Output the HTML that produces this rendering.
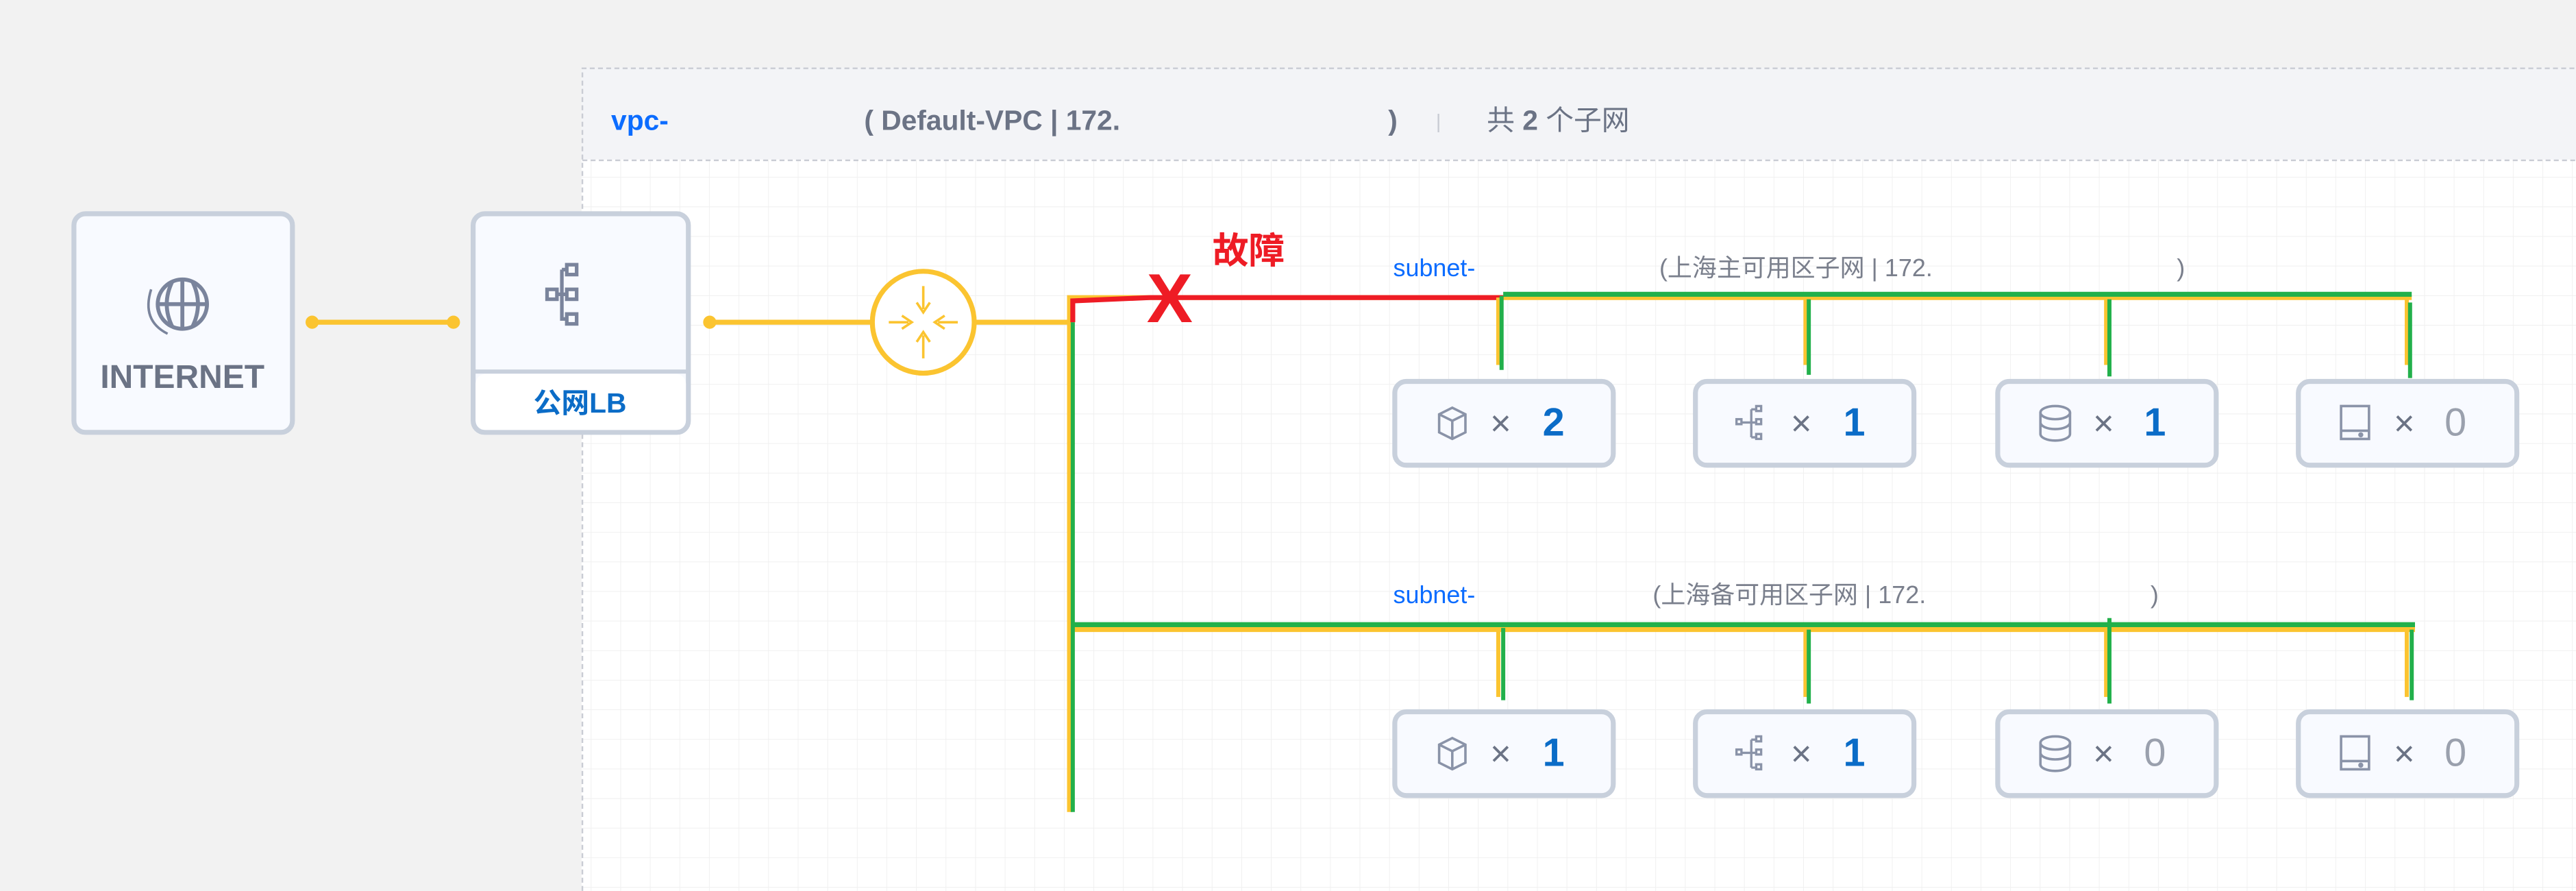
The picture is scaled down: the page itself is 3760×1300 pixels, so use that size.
<!DOCTYPE html>
<html><head><meta charset="utf-8"><style>
html,body{margin:0;padding:0;background:#f2f2f2;}
svg{display:block}
text{font-family:"Liberation Sans","Noto Sans CJK SC",sans-serif;}
</style></head><body>
<svg width="3760" height="1300" viewBox="0 0 1568 542" xmlns="http://www.w3.org/2000/svg">
<defs>
<pattern id="g" width="18" height="18" patternUnits="userSpaceOnUse"><path d="M18 0V18H0" fill="none" stroke="#f0f0f0" stroke-width="0.8"/></pattern>
<g id="cube"><path d="M-8 -5 L0 -9 L8 -5 L8 6 L0 10 L-8 6Z M-8 -5 L0 -1 L8 -5 M0 -1 L0 10" fill="none" stroke="#8a93a8" stroke-width="1.5"/></g>
<g id="lbi" fill="none" stroke="#8a93a8" stroke-width="1.4"><rect x="-9" y="-2" width="3" height="3"/><rect x="3" y="-10" width="3" height="3"/><rect x="3" y="-2" width="3" height="3"/><rect x="3" y="7" width="3" height="3"/><path d="M-6 0H3M0 -8V9M0 -8H3M0 9H3"/></g>
<g id="db" fill="none" stroke="#8a93a8" stroke-width="1.5"><ellipse cx="0" cy="-6" rx="9" ry="4"/><path d="M-9 -6V7M9 -6V7M-9 0A9 4 0 0 0 9 0M-9 7A9 4 0 0 0 9 7"/></g>
<g id="disk" fill="none" stroke="#8a93a8" stroke-width="1.5"><path d="M-8 -10H8V10H-9V-10Z M-9 5H8"/><circle cx="3" cy="7.5" r="0.8" fill="#8a93a8"/></g>
</defs>
<rect width="1568" height="542" fill="#f2f2f2"/>
<rect x="354" y="41" width="1214" height="501" fill="#fff"/>
<rect x="354" y="97" width="1214" height="445" fill="url(#g)"/>
<rect x="354" y="41" width="1214" height="56" fill="#f3f4f7"/>
<path d="M354.5 542V41.5H1568M354.5 97.5H1568" fill="none" stroke="#c9ccd4" stroke-dasharray="3,2"/>
<text x="372" y="79" font-size="17" font-weight="bold" fill="#0b6cff">vpc-</text>
<text x="526" y="79" font-size="17" font-weight="bold" fill="#6b7385">( Default-VPC | 172.</text>
<text x="845" y="79" font-size="17" font-weight="bold" fill="#6b7385">)</text>
<text x="874" y="78" font-size="12" fill="#c8cbd3">|</text>
<text x="905" y="79" font-size="17" fill="#6b7385">共 <tspan font-weight="bold">2</tspan> 个子网</text>

<rect x="45" y="130" width="133" height="133" rx="7" fill="#f8faff" stroke="#c8d0dc" stroke-width="3"/>
<g fill="none" stroke="#7a849c" stroke-width="2.4"><circle cx="111" cy="185" r="15"/><path d="M96 185H126M111 170V200M105 171Q98 185 105 199M117 171Q124 185 117 199"/><path d="M92 176Q86 195 102 203" stroke-width="1.5"/></g>
<text x="111" y="236" font-size="20" font-weight="bold" fill="#6b7385" text-anchor="middle">INTERNET</text>

<rect x="288" y="130" width="131" height="133" rx="7" fill="#f8faff" stroke="#c8d0dc" stroke-width="3"/>
<path d="M288 226H419" stroke="#c8d0dc" stroke-width="2.5"/>
<rect x="289.5" y="227.5" width="128" height="34" rx="6" fill="#fff"/>
<g fill="none" stroke="#7a849c" stroke-width="2.2"><rect x="333" y="176" width="6" height="6"/><rect x="345" y="161" width="6" height="6"/><rect x="345" y="176" width="6" height="6"/><rect x="345" y="191" width="6" height="6"/><path d="M339 179H345M342 164V194H345M342 164H345"/></g>
<text x="353" y="251" font-size="17" font-weight="bold" fill="#0b6cc7" text-anchor="middle">公网LB</text>

<g stroke="#fbc430" stroke-width="3" fill="#fbc430">
<path d="M190 196H276M432 196H530M594 196H652"/>
<circle cx="190" cy="196" r="2.5"/><circle cx="276" cy="196" r="2.5"/><circle cx="432" cy="196" r="2.5"/>
</g>
<circle cx="562" cy="196" r="31" fill="#fff" stroke="#fbc430" stroke-width="3"/>
<g fill="none" stroke="#fbc430" stroke-width="1.5"><path d="M562 174V188M558 184L562 190L566 184M562 218V204M558 208L562 202L566 208M541 196H553M549 192L555 196L549 200M583 196H571M575 192L569 196L575 200"/></g>

<!-- trunks -->
<path d="M651 494V181H1468M651 383H1470" stroke="#fbc430" stroke-width="3" fill="none"/>
<path d="M653 494V196" stroke="#22b04b" stroke-width="2.5"/>
<path d="M653 196V183L700 181H915" stroke="#ee1c25" stroke-width="3" fill="none"/>
<path d="M915 179H1468M653 380H1470" stroke="#22b04b" stroke-width="3"/>
<text x="712" y="196" font-size="42" font-weight="bold" fill="#ee1c25" text-anchor="middle">X</text>
<text x="738" y="160" font-size="22" font-weight="bold" fill="#ee1c25">故障</text>

<text x="848" y="168" font-size="15" fill="#0b6cff">subnet-</text>
<text x="1010" y="168" font-size="15" fill="#7a7f8c">(上海主可用区子网 | 172.</text>
<text x="1325" y="168" font-size="15" fill="#7a7f8c">)</text>
<text x="848" y="367" font-size="15" fill="#0b6cff">subnet-</text>
<text x="1006" y="367" font-size="15" fill="#7a7f8c">(上海备可用区子网 | 172.</text>
<text x="1309" y="367" font-size="15" fill="#7a7f8c">)</text>

<g stroke-width="2.5" fill="none">
<path d="M912 181V222M1099 181V222M1282 181V222M1465 181V222M912 383V424M1099 383V424M1282 383V424M1465 383V424" stroke="#fbc430"/>
<path d="M914 180V225M1101 182V228M1284 182V229M1467 184V230M915 382V426M1101 383V428M1284 376V428M1468 383V426" stroke="#22b04b"/>
</g>

<g stroke="#c8d0dc" stroke-width="3" fill="#f8faff">
<rect x="849" y="232" width="133" height="51" rx="7"/><rect x="1032" y="232" width="133" height="51" rx="7"/><rect x="1216" y="232" width="133" height="51" rx="7"/><rect x="1399" y="232" width="133" height="51" rx="7"/>
<rect x="849" y="433" width="133" height="51" rx="7"/><rect x="1032" y="433" width="133" height="51" rx="7"/><rect x="1216" y="433" width="133" height="51" rx="7"/><rect x="1399" y="433" width="133" height="51" rx="7"/>
</g>
<use href="#cube" x="884" y="257"/><use href="#lbi" x="1066" y="257"/><use href="#db" x="1251" y="257"/><use href="#disk" x="1434" y="257"/>
<use href="#cube" x="884" y="458"/><use href="#lbi" x="1066" y="458"/><use href="#db" x="1251" y="458"/><use href="#disk" x="1434" y="458"/>
<g font-size="22" fill="#6b7385">
<text x="907" y="265">×</text><text x="1090" y="265">×</text><text x="1274" y="265">×</text><text x="1457" y="265">×</text>
<text x="907" y="466">×</text><text x="1090" y="466">×</text><text x="1274" y="466">×</text><text x="1457" y="466">×</text>
</g>
<g font-size="24" font-weight="bold" fill="#0b6cc7">
<text x="939" y="265">2</text><text x="1122" y="265">1</text><text x="1305" y="265">1</text>
<text x="939" y="466">1</text><text x="1122" y="466">1</text>
</g>
<g font-size="24" fill="#9aa0ad">
<text x="1488" y="265">0</text><text x="1305" y="466">0</text><text x="1488" y="466">0</text>
</g>
</svg>
</body></html>
